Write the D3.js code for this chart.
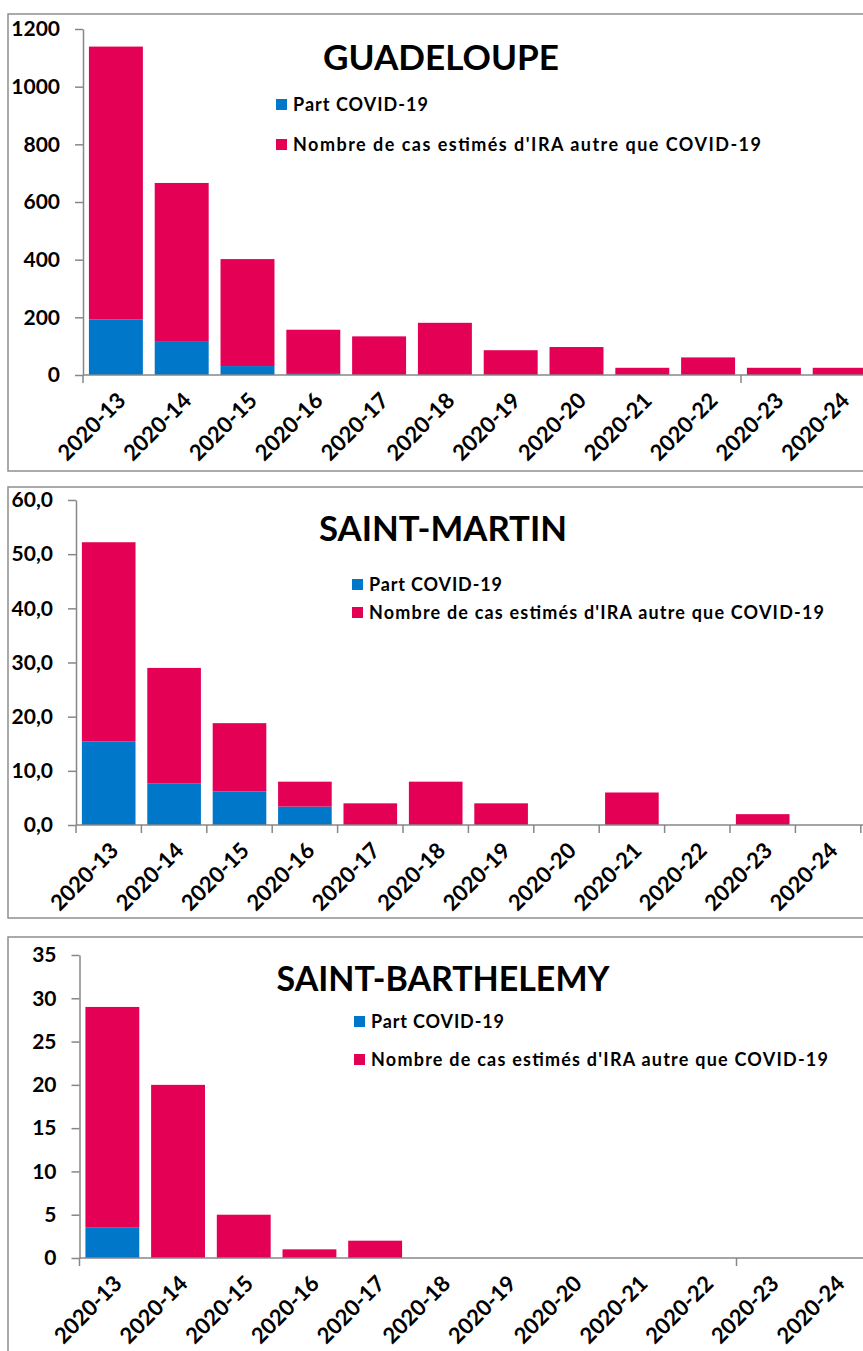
<!DOCTYPE html>
<html>
<head>
<meta charset="utf-8">
<script src="https://cdn.jsdelivr.net/npm/d3@7"></script>
<style>
  body { margin: 0; background: #fff; }
  svg { display: block; font-family: Lato, "Open Sans", sans-serif; font-weight: bold; }
</style>
</head>
<body>
<svg id="chart" width="863" height="1351"></svg>
<script>
// weeks shown on every panel
var weeks = ["2020-13", "2020-14", "2020-15", "2020-16", "2020-17", "2020-18",
             "2020-19", "2020-20", "2020-21", "2020-22", "2020-23", "2020-24"];

var seriesNames = ["Part COVID-19", "Nombre de cas estimés d'IRA autre que COVID-19"];

// Guadeloupe
var guadeloupeCovid = [193, 115, 31, 7, 0, 0, 0, 0, 0, 0, 0, 0];
var guadeloupeOther = [946, 551, 371, 150, 134, 181, 86, 97, 25, 61, 25, 25];
var guadeloupeTicks = [0, 200, 400, 600, 800, 1000, 1200];

// Saint-Martin
var stMartinCovid = [15.4, 7.7, 6.2, 3.4, 0, 0, 0, 0, 0, 0, 0, 0];
var stMartinOther = [36.8, 21.3, 12.6, 4.6, 4, 8, 4, 0, 6, 0, 2, 0];
var stMartinTicks = [0, 10, 20, 30, 40, 50, 60];

// Saint-Barthelemy
var stBarthCovid = [3.5, 0, 0, 0, 0, 0, 0, 0, 0, 0, 0, 0];
var stBarthOther = [25.5, 20, 5, 1, 2, 0, 0, 0, 0, 0, 0, 0];
var stBarthTicks = [0, 5, 10, 15, 20, 25, 30, 35];

var colors = ["#0077c8", "#e30055"];
var axisColor = "#878787";

var panels = [
  { title: "GUADELOUPE", covid: guadeloupeCovid, other: guadeloupeOther, ticks: guadeloupeTicks,
    fmt: d3.format("d"), xTicks: [0, 10],
    frame: [8, 14, 457], ax: 83, y0: 375, yTop: 29, step: 65.8,
    titleY: 70, titleX: 441, titleW: 236,
    legX: 276, legY: [99, 139], legW: [135, 468] },
  { title: "SAINT-MARTIN", covid: stMartinCovid, other: stMartinOther, ticks: stMartinTicks,
    fmt: function (d) { return d3.format(".1f")(d).replace(".", ","); },
    xTicks: [0, 1, 2, 3, 4, 5, 6, 7, 8, 9, 10, 11, 12],
    frame: [8, 487, 431], ax: 76, y0: 825, yTop: 500, step: 65.4,
    titleY: 541, titleX: 443, titleW: 248,
    legX: 352, legY: [579, 607], legW: [133, 455] },
  { title: "SAINT-BARTHELEMY", covid: stBarthCovid, other: stBarthOther, ticks: stBarthTicks,
    fmt: d3.format("d"), xTicks: [0, 10],
    frame: [8, 937, 440], ax: 79.5, y0: 1258, yTop: 955, step: 65.7,
    titleY: 991, titleX: 443, titleW: 333,
    legX: 354, legY: [1016, 1054], legW: [133, 457] }
];

var svg = d3.select("#chart");

panels.forEach(function (p) {
  var g = svg.append("g");

  // frame
  g.append("rect")
    .attr("x", p.frame[0])
    .attr("y", p.frame[1])
    .attr("width", 900)
    .attr("height", p.frame[2])
    .style("fill", "none")
    .style("stroke", "#8f8f8f")
    .style("stroke-width", 1.5);

  var x = d3.scaleBand()
    .domain(weeks)
    .range([p.ax, p.ax + weeks.length * p.step])
    .paddingInner(0.18)
    .paddingOuter(0.09);

  var y = d3.scaleLinear()
    .domain([0, d3.max(p.ticks)])
    .range([p.y0, p.yTop]);

  var rows = weeks.map(function (w, i) {
    return { week: w, covid: p.covid[i], other: p.other[i] };
  });
  var stacked = d3.stack().keys(["covid", "other"])(rows);

  g.selectAll(".layer")
    .data(stacked)
    .enter().append("g")
    .style("fill", function (d, i) { return colors[i]; })
    .selectAll("rect")
    .data(function (d) { return d; })
    .enter().append("rect")
    .filter(function (d) { return d[1] - d[0] > 0; })
    .attr("x", function (d) { return x(d.data.week); })
    .attr("width", x.bandwidth())
    .attr("y", function (d) { return y(d[1]); })
    .attr("height", function (d) { return y(d[0]) - y(d[1]); });

  // y axis
  var yAxis = g.append("g")
    .attr("transform", "translate(" + p.ax + ",0)")
    .call(d3.axisLeft(y).tickValues(p.ticks).tickFormat(p.fmt).tickSize(8).tickSizeOuter(0).tickPadding(15));
  yAxis.select(".domain").style("stroke", axisColor).style("stroke-width", 1.5);
  yAxis.selectAll(".tick line").style("stroke", axisColor).style("stroke-width", 1.5);
  yAxis.selectAll("text")
    .style("font-size", "21px")
    .style("font-family", "Lato, sans-serif")
    .style("font-weight", "bold")
    .style("fill", "#000");

  // x axis
  g.append("line")
    .attr("x1", p.ax).attr("x2", 870)
    .attr("y1", p.y0).attr("y2", p.y0)
    .style("stroke", axisColor).style("stroke-width", 1.5);

  g.selectAll(".xtick")
    .data(p.xTicks)
    .enter().append("line")
    .attr("x1", function (i) { return p.ax + i * x.step(); })
    .attr("x2", function (i) { return p.ax + i * x.step(); })
    .attr("y1", p.y0).attr("y2", p.y0 + 8)
    .style("stroke", axisColor).style("stroke-width", 1.5);

  g.selectAll(".xlabel")
    .data(weeks)
    .enter().append("text")
    .attr("transform", function (d) {
      var cx = x(d) + x.bandwidth() / 2;
      return "translate(" + (cx + 11) + "," + (p.y0 + 27) + ") rotate(-45)";
    })
    .attr("text-anchor", "end")
    .style("font-size", "22px")
    .text(function (d) { return d; });

  // title
  g.append("text")
    .attr("x", p.titleX)
    .attr("y", p.titleY)
    .attr("text-anchor", "middle")
    .attr("textLength", p.titleW)
    .attr("lengthAdjust", "spacingAndGlyphs")
    .style("font-size", "35px")
    .text(p.title);

  // legend
  seriesNames.forEach(function (name, i) {
    g.append("rect")
      .attr("x", p.legX)
      .attr("y", p.legY[i])
      .attr("width", 11)
      .attr("height", 11)
      .style("fill", colors[i]);
    g.append("text")
      .attr("x", p.legX + 17)
      .attr("y", p.legY[i] + 11.5)
      .attr("textLength", p.legW[i])
      .attr("lengthAdjust", "spacing")
      .style("font-size", "18px")
      .text(name);
  });
});
</script>
</body>
</html>
